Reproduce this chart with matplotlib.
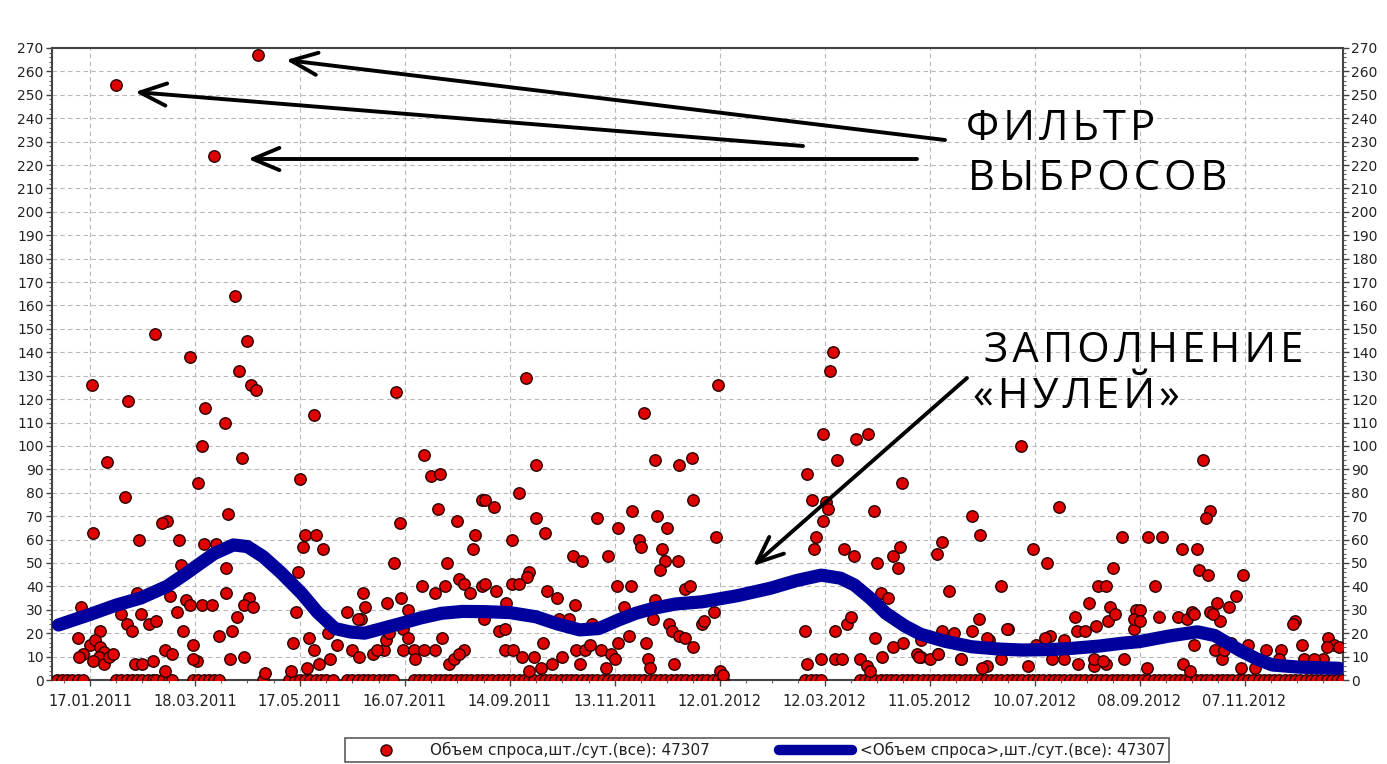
"""Demand volume per day with smoothed trend and outlier annotations."""

import numpy as np
import matplotlib

matplotlib.use("Agg")
import matplotlib.pyplot as plt
import matplotlib.dates as mdates
from matplotlib.lines import Line2D
from matplotlib.ticker import MultipleLocator

W, H = 1387, 764
START = np.datetime64("2011-01-17")

RED = "#e00000"
EDGE = "#2a0000"
BLUE = "#00009c"
GRID = "#b8b8b8"
TXT = "#222222"

# x ticks (every 60 days from 17.01.2011)
tick_labels = ["17.01.2011", "18.03.2011", "17.05.2011", "16.07.2011",
               "14.09.2011", "13.11.2011", "12.01.2012", "12.03.2012",
               "11.05.2012", "10.07.2012", "08.09.2012", "07.11.2012"]

# daily demand, non-zero days: day offset from 17.01.2011 and value
pt_days = [
    83, 37, 90, 57, 1, 85, 92, 95, 22, 66, 77, 64, 10, 87, 62, 20, 79, 44, 41, 2,
    28, 51, 65, 72, 52, 78, 46, 27, 78, 91, 88, 93, 55, 57, 64, 70, -5, 18, 29, 50,
    21, 24, 34, 38, 84, 81, 53, 74, 6, -7, 0, -4, -6, 3, 6, 8, 5, 2, 8, 11,
    13, 59, 43, 47, 61, 59, 80, 88, 26, 30, 36, 43, 100,
    175, 128, 191, 195, 200, 120, 199, 224, 177, 210, 123, 129, 122, 133, 220, 219,
    119, 174, 204, 190, 197, 203, 211, 214, 217, 224, 156, 157, 147, 155, 153, 170,
    178, 182, 118, 225, 136, 141, 125, 128, 131, 137, 116, 124, 115, 150, 154, 162,
    168, 164, 179, 182, 179, 185, 186, 191, 197, 201, 205, 208, 214, 211, 169, 171,
    249, 317, 255, 323, 337, 344, 245, 226, 231, 345, 255, 260, 290, 302, 310, 324,
    330, 241, 314, 315, 327, 329, 326, 336, 276, 281, 296, 251, 250, 226, 232, 241,
    245, 261, 267, 277, 301, 309, 305, 340, 343, 323, 322, 238, 350, 234, 237, 268,
    274, 287, 331, 333, 337, 340, 345, 259, 302, 308, 318, 237, 242, 247, 254, 258,
    251, 264, 270, 278, 283, 286, 292, 298, 300, 280, 295, 319, 320, 334,
    425, 423, 359, 419, 438, 445, 427, 410, 464, 413, 421, 422, 419, 448, 358, 415,
    414, 431, 437, 450, 459, 463, 462, 452, 456, 357, 351, 409, 426, 433, 435, 449,
    459, 465, 473, 453, 410, 418, 426, 430, 440, 444, 446, 360, 362,
    532, 554, 504, 509, 487, 484, 539, 547, 590, 585, 491, 521, 576, 581, 571, 598,
    563, 508, 475, 487, 494, 504, 525, 514, 541, 549, 557, 564, 569, 575, 582, 597,
    475, 485, 498, 513, 521, 536, 550, 557, 565, 574, 581, 591, 513, 524, 474, 480,
    485, 498, 510, 546, 574, 579, 583, 586, 597,
    636, 640, 638, 605, 613, 624, 633, 634, 639, 659, 609, 655, 644, 651, 640, 646,
    600, 600, 611, 622, 627, 630, 689, 631, 643, 647, 658, 625, 629, 604, 681, 693,
    694, 708, 711, 707, 705, 662, 680, 631, 642, 648, 652, 666, 688, 672, 700, 714,
]
pt_vals = [
    164, 148, 145, 138, 126, 132, 126, 124, 119, 116, 110, 100, 93, 95, 84, 78, 71, 68, 67, 63,
    60, 60, 58, 58, 49, 48, 36, 37, 37, 35, 32, 31, 34, 32, 32, 32, 31, 28, 28, 29,
    24, 21, 24, 25, 27, 21, 21, 19, 21, 18, 15, 11, 10, 17, 14, 12, 10, 8, 7, 10,
    11, 15, 13, 11, 8, 9, 9, 10, 7, 7, 8, 4, 3,
    123, 113, 96, 87, 88, 86, 73, 77, 67, 68, 62, 62, 57, 56, 62, 56,
    46, 50, 50, 40, 37, 40, 43, 41, 37, 40, 37, 31, 29, 26, 26, 33,
    35, 30, 29, 26, 20, 15, 18, 13, 7, 9, 16, 5, 4, 13, 10, 11,
    13, 13, 22, 18, 13, 13, 9, 13, 13, 18, 7, 9, 13, 11, 17, 20,
    129, 114, 92, 94, 92, 95, 80, 77, 74, 77, 69, 63, 69, 65, 72, 70,
    65, 60, 60, 57, 56, 51, 47, 51, 53, 51, 53, 46, 44, 41, 38, 41,
    41, 38, 35, 32, 40, 40, 31, 39, 40, 34, 26, 33, 24, 21, 22, 26,
    26, 24, 24, 21, 19, 18, 14, 16, 16, 19, 16, 13, 13, 10, 10, 5,
    4, 7, 10, 13, 13, 15, 13, 11, 9, 7, 5, 9, 5, 7,
    140, 132, 126, 105, 103, 105, 94, 88, 84, 77, 76, 73, 68, 72, 61, 61,
    56, 56, 53, 50, 53, 57, 48, 37, 35, 29, 25, 21, 21, 24, 27, 18,
    14, 16, 11, 10, 7, 9, 9, 9, 9, 6, 4, 4, 2,
    100, 74, 70, 62, 59, 54, 56, 50, 61, 48, 38, 40, 40, 40, 33, 30,
    27, 26, 17, 21, 20, 21, 22, 17, 15, 19, 17, 21, 21, 23, 25, 22,
    10, 11, 9, 6, 9, 6, 9, 9, 7, 6, 7, 9, 18, 22, 10, 9,
    11, 9, 5, 18, 9, 8, 31, 28, 26,
    94, 72, 69, 61, 61, 56, 56, 47, 45, 45, 40, 36, 33, 31, 29, 25,
    30, 25, 27, 27, 26, 29, 25, 15, 13, 9, 5, 7, 4, 5, 13, 15,
    9, 18, 15, 14, 9, 15, 9, 28, 28, 13, 16, 5, 24, 13, 9, 14,
]

# days with zero demand
zero_days = [
    -19, -16, -13, -10, -7, -4, 15, 18, 21, 24, 27, 30, 33, 36, 38, 42, 45, 47,
    59, 62, 65, 68, 71, 74, 99, 114, 117, 120, 123, 126, 129, 132, 135, 139,
    147, 150, 153, 156, 159, 162, 165, 168, 171, 173, 185, 188, 191, 194, 197,
    200, 203, 206, 209, 212, 215, 218, 221, 224, 227, 230, 233, 236, 239, 242,
    245, 248, 251, 254, 257, 260, 263, 266, 269, 272, 275, 278, 281, 284, 287,
    290, 293, 296, 299, 302, 305, 308, 311, 314, 317, 320, 323, 326, 329, 332,
    335, 338, 341, 344, 347, 350, 353, 356, 359, 362, 409, 412, 415, 418,
    440, 443, 446, 449, 452, 455, 458, 461, 464, 467, 470, 473, 476, 479, 482,
    485, 488, 491, 494, 497, 500, 503, 506, 509, 512, 515, 518, 521, 524, 527,
    530, 533, 536, 539, 542, 545, 548, 551, 554, 557, 560, 563, 566, 569, 572,
    575, 578, 581, 584, 587, 590, 593, 596, 599, 602, 605, 608, 611, 614, 617,
    620, 623, 626, 629, 632, 635, 638, 641, 644, 647, 650, 653, 656, 659, 662,
    665, 668, 671, 674, 677, 680, 683, 686, 689, 692, 695, 698, 701, 704, 707,
    710, 713, 716,
]

# outliers caught by the filter
out_days = [15, 71, 96]
out_vals = [254, 224, 267]

# smoothed demand (thick blue line)
trend_days = [-18, 0, 15, 29, 44, 54, 63, 71, 82, 90, 99, 109, 121, 130, 140,
              149, 157, 167, 178, 189, 201, 213, 226, 240, 255, 267, 280, 291,
              302, 312, 322, 335, 350, 370, 389, 404, 418, 429, 437, 446, 455,
              466, 475, 489, 504, 520, 533, 549, 561, 577, 590, 600, 617, 633,
              643, 657, 667, 676, 691, 714]
trend_vals = [23.5, 28, 32, 35, 40, 45, 49.8, 54, 57.7, 57, 52.7, 46, 37, 29,
              22, 20.5, 20, 22, 24.2, 26.5, 28.5, 29.3, 29.2, 28.8, 27, 24,
              21.4, 22, 25.6, 28.5, 30.6, 32.5, 33.4, 36, 39.2, 42.5, 44.8,
              43.5, 40.6, 35, 28.5, 23, 19.5, 16.5, 14.2, 13.2, 12.8, 13, 13.5,
              14.5, 15.7, 16.4, 18.8, 20.6, 19, 12.8, 9, 6.4, 5.5, 5]

LEG_PTS = "Объем спроса,шт./сут.(все): 47307"
LEG_LINE = "<Объем спроса>,шт./сут.(все): 47307"

HAIR = "\u200a"


def spaced(s):
    return HAIR.join(s)


def to_dates(days):
    return START + np.array(days, dtype="int64").astype("timedelta64[D]")


def fx(px):
    return px / W


def fy(py):
    return 1 - py / H


def main():
    fig = plt.figure(figsize=(W / 100, H / 100), dpi=100)
    fig.patch.set_facecolor("white")
    ax = fig.add_axes([fx(52), fy(680), fx(1343) - fx(52), fy(48) - fy(680)])

    dot = dict(s=68, c=RED, edgecolors=EDGE, linewidths=1.0, zorder=3)
    ax.scatter(to_dates(zero_days), np.zeros(len(zero_days)), **dot)
    ax.scatter(to_dates(pt_days), pt_vals, **dot)
    ax.scatter(to_dates(out_days), out_vals, **dot)
    ax.plot(to_dates(trend_days), trend_vals, color=BLUE, lw=9.5,
            solid_capstyle="round", solid_joinstyle="round", zorder=4)

    # axes
    x0 = mdates.date2num(START)
    ax.set_xlim(x0 - 21.7, x0 + 716.3)
    ax.set_ylim(0, 270)
    tick_pos = [mdates.date2num(np.datetime64(f"{s[6:]}-{s[3:5]}-{s[:2]}"))
                for s in tick_labels]
    ax.set_xticks(tick_pos)
    ax.set_xticklabels(tick_labels)
    minor = [p + k for p in tick_pos + [tick_pos[-1] + 60] for k in (-45, -30, -15)]
    ax.set_xticks([m for m in minor if x0 - 21.7 < m < x0 + 716.3], minor=True)
    ax.yaxis.set_major_locator(MultipleLocator(10))
    ax.yaxis.set_minor_locator(MultipleLocator(2))

    ax.grid(True, which="major", ls=(0, (4, 3)), color=GRID, lw=0.8, zorder=0)
    ax.tick_params(axis="both", which="major", labelcolor=TXT,
                   color="#444444", length=4, width=1)
    ax.tick_params(axis="x", which="major", labelsize=10.5, pad=6)
    ax.tick_params(axis="y", which="major", labelsize=10)
    ax.tick_params(axis="both", which="minor", color="#666666", length=2, width=0.8)
    ax.tick_params(axis="y", which="both", left=True, right=True,
                   labelleft=True, labelright=True, pad=2)
    for sp in ax.spines.values():
        sp.set_color("#444444")
        sp.set_linewidth(1.5)

    # annotations
    big = dict(fontsize=30, family=["Open Sans", "DejaVu Sans"], color="black",
               va="center", ha="left")
    fig.text(fx(966), fy(129), spaced("ФИЛЬТР"), **big)
    fig.text(fx(968), fy(179), spaced("ВЫБРОСОВ"), **big)
    fig.text(fx(984), fy(351), spaced("ЗАПОЛНЕНИЕ"), **big)
    fig.text(fx(973), fy(397), spaced("«НУЛЕЙ»"), **big)

    arrows = [((945, 140), (286, 60)), ((803, 146), (135, 92)),
              ((917, 159), (248, 159)), ((967, 378), (753, 566))]
    for (tx, ty), (hx, hy) in arrows:
        ax.annotate("", xy=(fx(hx), fy(hy)), xycoords="figure fraction",
                    xytext=(fx(tx), fy(ty)), textcoords="figure fraction",
                    arrowprops=dict(arrowstyle="->,head_length=0.95,head_width=0.4",
                                    color="black", lw=2.8, mutation_scale=20,
                                    shrinkA=0, shrinkB=0),
                    zorder=6)

    handles = [
        Line2D([], [], ls="none", marker="o", ms=8, mfc=RED, mec=EDGE, mew=1),
        Line2D([], [], color=BLUE, lw=7.5, solid_capstyle="round"),
    ]
    leg = fig.legend(handles, [LEG_PTS, LEG_LINE], loc="center",
                     bbox_to_anchor=(fx(757), fy(750)), ncol=2, fontsize=11,
                     frameon=True, fancybox=False, handlelength=4.8,
                     columnspacing=4.5, handletextpad=0.5, borderpad=0.25)
    leg.get_frame().set_edgecolor("#333333")
    leg.get_frame().set_linewidth(1.2)
    for t in leg.get_texts():
        t.set_color(TXT)

    fig.savefig("out.png", dpi=100, facecolor="white")
    plt.close(fig)


if __name__ == "__main__":
    main()
